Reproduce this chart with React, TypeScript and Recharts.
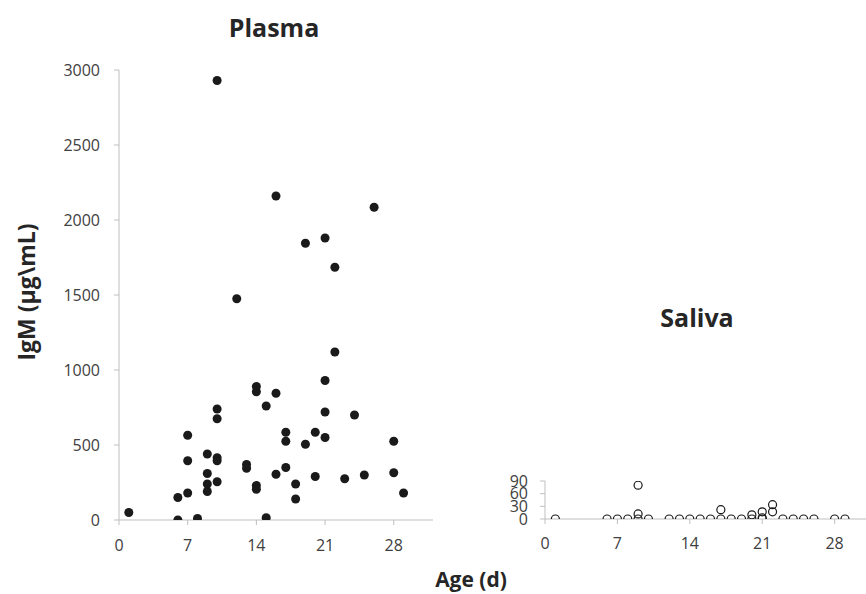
import { ScatterChart, Scatter, XAxis, YAxis } from 'recharts';

// Plasma IgM (µg/mL) by age in days
const plasmaAge = [1, 6, 6, 7, 7, 7, 8, 9, 9, 9, 9, 10, 10, 10, 10, 10, 10, 12, 13, 13, 14, 14, 14, 14, 15, 15, 16, 16, 16, 17, 17, 17, 18, 18, 19, 19, 20, 20, 21, 21, 21, 21, 22, 22, 23, 24, 25, 26, 28, 28, 29];
const plasmaIgM = [50, 0, 150, 565, 395, 180, 10, 440, 310, 240, 190, 2930, 740, 675, 415, 395, 255, 1475, 370, 345, 890, 855, 230, 205, 760, 15, 2160, 845, 305, 585, 525, 350, 240, 140, 1845, 505, 585, 290, 1880, 930, 720, 550, 1685, 1120, 275, 700, 300, 2085, 525, 315, 180];

// Saliva IgM by age in days
const salivaAge = [1, 6, 7, 8, 9, 9, 9, 10, 12, 13, 14, 15, 16, 17, 17, 18, 19, 20, 20, 21, 21, 21, 22, 22, 23, 24, 25, 26, 28, 29];
const salivaIgM = [0, 0, 0, 0, 0, 80, 12, 0, 0, 0, 0, 0, 0, 0, 22, 0, 0, 0, 10, 0, 17, 3, 34, 17, 0, 0, 0, 0, 0, 0];

const ageTicks = [0, 7, 14, 21, 28];
const plasmaTicks = [0, 500, 1000, 1500, 2000, 2500, 3000];
const salivaTicks = [0, 30, 60, 90];

const plasmaData = plasmaAge.map((age, i) => ({ age, igm: plasmaIgM[i] }));
const salivaData = salivaAge.map((age, i) => ({ age, igm: salivaIgM[i] }));

const FONT = '"Open Sans", "Noto Sans", sans-serif';
const AXIS = '#bfbfbf';
const tickStyle = { fill: '#404040', fontSize: 16, fontFamily: FONT };

const FilledDot = (p: any) => <circle cx={p.cx} cy={p.cy} r={4.5} fill="#1a1a1a" />;
const OpenDot = (p: any) => <circle cx={p.cx} cy={p.cy} r={4} fill="none" stroke="#1a1a1a" strokeWidth={1.2} />;

const label = (text: string, left: number, top: number, size: number, rotate = false) => (
    <div
        style={{
            position: 'absolute',
            left,
            top,
            transform: `translate(-50%, -50%)${rotate ? ' rotate(-90deg)' : ''}`,
            fontFamily: FONT,
            fontWeight: 700,
            fontSize: size,
            color: '#262626',
            whiteSpace: 'nowrap',
            lineHeight: 1,
        }}
    >
        {text}
    </div>
);

export default function App() {
    return (
        <div style={{ position: 'fixed', left: 0, top: 0, width: 866, height: 594, overflow: 'hidden', background: '#fff' }}>
            <div style={{ position: 'absolute', left: 0, top: 0 }}>
                <ScatterChart width={460} height={594} margin={{ top: 70, right: 27, bottom: 44, left: 59 }}>
                    <XAxis
                        type="number"
                        dataKey="age"
                        domain={[0, 32]}
                        ticks={ageTicks}
                        interval={0}
                        height={30}
                        tickSize={5}
                        tickMargin={15}
                        stroke={AXIS}
                        tick={tickStyle}
                        allowDataOverflow
                    />
                    <YAxis
                        type="number"
                        dataKey="igm"
                        domain={[0, 3000]}
                        ticks={plasmaTicks}
                        interval={0}
                        width={60}
                        tickSize={5}
                        tickMargin={14}
                        stroke={AXIS}
                        tick={tickStyle}
                        allowDataOverflow
                    />
                    <Scatter data={plasmaData} shape={FilledDot} isAnimationActive={false} />
                </ScatterChart>
            </div>
            <div style={{ position: 'absolute', left: 460, top: 0 }}>
                <ScatterChart width={430} height={594} margin={{ top: 481, right: 14, bottom: 45, left: 45 }}>
                    <XAxis
                        type="number"
                        dataKey="age"
                        domain={[0, 32]}
                        ticks={ageTicks}
                        interval={0}
                        height={30}
                        tickSize={5}
                        tickMargin={14}
                        stroke={AXIS}
                        tick={tickStyle}
                        allowDataOverflow
                    />
                    <YAxis
                        type="number"
                        dataKey="igm"
                        domain={[0, 90]}
                        ticks={salivaTicks}
                        interval={0}
                        width={40}
                        tickSize={5}
                        tickMargin={12}
                        stroke={AXIS}
                        tick={tickStyle}
                        allowDataOverflow
                    />
                    <Scatter data={salivaData} shape={OpenDot} isAnimationActive={false} />
                </ScatterChart>
            </div>
            {label('Plasma', 274, 27, 25)}
            {label('Saliva', 697, 317, 25)}
            {label('Age (d)', 471, 579, 21)}
            {label('IgM (µg\\mL)', 26, 292, 23, true)}
        </div>
    );
}
